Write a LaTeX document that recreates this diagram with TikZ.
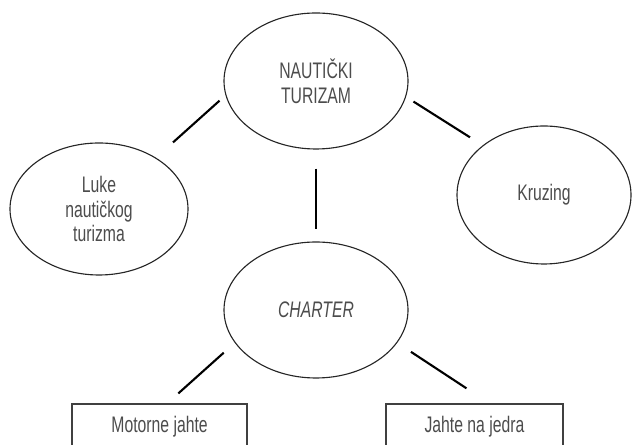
\documentclass[tikz,border=0pt]{standalone}
\usepackage{fontspec}
\setmainfont{Liberation Sans}[FakeStretch=0.7]
\usetikzlibrary{shapes.geometric}
\definecolor{tekstcolor}{rgb}{0.3,0.3,0.3}

\begin{document}
\begin{tikzpicture}[line width=0.8pt,
  elipsa/.style={ellipse,draw=black!85,align=center,inner sep=0pt,text=tekstcolor,font=\fontsize{16}{17.5}\selectfont},
  kutija/.style={rectangle,draw=black!75,line width=1pt,minimum height=1.15cm,text=tekstcolor,font=\fontsize{16}{17.5}\selectfont},
  veza/.style={line width=1.5pt}]
\useasboundingbox (0,0) rectangle (15.8,11.125);
\node[elipsa,minimum width=4.6cm,minimum height=3.4cm] (nauticki) at (7.9,9.1) {NAUTIČKI\\TURIZAM};
\node[elipsa,minimum width=4.45cm,minimum height=3.3cm] (luke) at (2.475,5.9) {Luke\\nautičkog\\turizma};
\node[elipsa,minimum width=4.35cm,minimum height=3.45cm] (kruzing) at (13.6,6.25) {Kruzing};
\node[elipsa,minimum width=4.6cm,minimum height=3.4cm] (charter) at (7.9,3.375) {\textit{CHARTER}};
\node[kutija,minimum width=4.375cm] (motorne) at (3.99,0.45) {Motorne jahte};
\node[kutija,minimum width=4.425cm] (jedra) at (11.86,0.45) {Jahte na jedra};
\draw[veza,shorten <=0.2cm,shorten >=0.57cm] (nauticki.189) -- (luke.42);
\draw[veza,shorten <=0.22cm,shorten >=0.375cm] (nauticki.350) -- (kruzing.141);
\draw[veza,shorten <=0.475cm,shorten >=0.3cm] (nauticki.south) -- (charter.north);
\draw[veza,shorten <=0.37cm,shorten >=0.37cm] (charter.202) -- (motorne.72);
\draw[veza,shorten <=0.41cm,shorten >=0.68cm] (charter.338) -- (jedra.58);
\end{tikzpicture}
\end{document}
